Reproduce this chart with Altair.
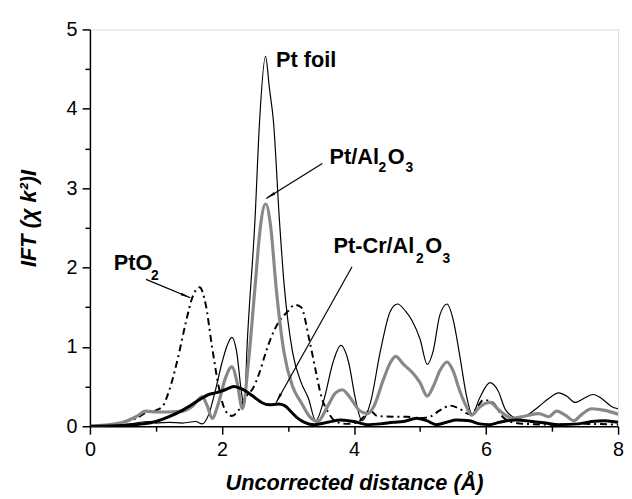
import math
import altair as alt
import pandas as pd

# ---------------- data ----------------
foil_r = [0.0, 0.3, 0.6, 0.9, 1.0, 1.2, 1.4, 1.6, 1.7, 1.8, 1.9, 2.0, 2.08, 2.15, 2.22, 2.3, 2.34,
          2.38, 2.5, 2.57, 2.66, 2.72, 2.78, 2.87, 2.94, 3.07, 3.2, 3.31, 3.42, 3.55, 3.68, 3.8,
          3.92, 4.02, 4.12, 4.25, 4.4, 4.55, 4.66, 4.78, 4.88, 5.0, 5.11, 5.2, 5.3, 5.41, 5.5,
          5.6, 5.7, 5.79, 5.9, 6.06, 6.18, 6.3, 6.48, 6.6, 6.8, 6.95, 7.1, 7.22, 7.35, 7.5,
          7.62, 7.75, 7.9, 8.0]
foil_v = [0.0, 0.01, 0.03, 0.06, 0.04, 0.05, 0.04, 0.06, 0.03, 0.15, 0.45, 0.8, 1.02, 1.12, 0.95, 0.4, 0.25,
          1.0, 2.6, 3.85, 4.66, 4.25, 3.84, 2.6, 1.8, 0.93, 0.55, 0.35, 0.07, 0.35, 0.8, 1.02,
          0.8, 0.35, 0.07, 0.3, 0.95, 1.45, 1.54, 1.45, 1.33, 1.1, 0.78, 0.95, 1.4, 1.54, 1.35,
          0.9, 0.4, 0.15, 0.35, 0.55, 0.45, 0.2, 0.1, 0.13, 0.25, 0.35, 0.42, 0.38, 0.3, 0.36,
          0.4, 0.35, 0.25, 0.22]

ptal_r = [0.0, 0.3, 0.5, 0.7, 0.85, 1.0, 1.2, 1.4, 1.55, 1.7, 1.78, 1.85, 1.95, 2.05, 2.15, 2.23, 2.31,
          2.4, 2.5, 2.58, 2.66, 2.74, 2.82, 2.94, 3.07, 3.2, 3.32, 3.45, 3.6, 3.72, 3.82, 3.95,
          4.08, 4.2, 4.3, 4.45, 4.55, 4.63, 4.75, 4.88, 5.0, 5.11, 5.2, 5.3, 5.41, 5.5, 5.6,
          5.7, 5.78, 5.9, 6.06, 6.2, 6.4, 6.6, 6.8, 6.95, 7.07, 7.2, 7.33, 7.45, 7.6, 7.8, 8.0]
ptal_v = [0.0, 0.02, 0.05, 0.12, 0.19, 0.18, 0.18, 0.19, 0.25, 0.37, 0.25, 0.1, 0.3, 0.6, 0.75, 0.55, 0.22,
          0.8, 1.75, 2.5, 2.8, 2.5, 1.75, 0.93, 0.5, 0.3, 0.13, 0.06, 0.25, 0.42, 0.46, 0.35,
          0.2, 0.16, 0.25, 0.6, 0.8, 0.88, 0.78, 0.68, 0.55, 0.38, 0.5, 0.7, 0.81, 0.7, 0.45,
          0.25, 0.14, 0.24, 0.3, 0.2, 0.1, 0.13, 0.16, 0.12, 0.19, 0.14, 0.07, 0.15, 0.22, 0.2, 0.15]

pto2_r = [0.0, 0.3, 0.5, 0.7, 0.85, 1.0, 1.1, 1.2, 1.33, 1.45, 1.55, 1.66, 1.75, 1.85, 1.95, 2.05, 2.15,
          2.25, 2.37, 2.47, 2.57, 2.66, 2.75, 2.85, 3.0, 3.1, 3.2, 3.32, 3.42, 3.5, 3.62, 3.75, 3.9,
          4.05, 4.15, 4.24, 4.35, 4.6, 4.8, 5.0, 5.15, 5.3, 5.46, 5.6, 5.75, 5.85, 5.96, 6.1,
          6.25, 6.4, 6.6, 7.0, 7.5, 8.0]
pto2_v = [0.0, 0.02, 0.05, 0.1, 0.17, 0.2, 0.25, 0.45, 0.85, 1.3, 1.62, 1.75, 1.55, 1.0, 0.5, 0.2, 0.13,
          0.2, 0.38, 0.48, 0.68, 0.92, 1.13, 1.3, 1.45, 1.53, 1.5, 1.1, 0.7, 0.39, 0.16, 0.05, 0.03,
          0.05, 0.12, 0.2, 0.13, 0.12, 0.12, 0.1, 0.12, 0.2, 0.26, 0.22, 0.15, 0.22, 0.33, 0.3,
          0.12, 0.05, 0.03, 0.02, 0.03, 0.02]

ptcr_r = [0.0, 0.5, 0.8, 1.0, 1.2, 1.4, 1.5, 1.65, 1.8, 1.9, 2.05, 2.18, 2.3, 2.4, 2.5, 2.6, 2.72,
          2.85, 2.95, 3.05, 3.15, 3.25, 3.4, 3.6, 3.8, 4.0, 4.2, 4.4, 4.6, 4.75, 4.95, 5.1,
          5.25, 5.4, 5.55, 5.75, 5.9, 6.05, 6.2, 6.45, 6.7, 6.9, 7.1, 7.4, 7.6, 7.8, 8.0]
ptcr_v = [0.0, 0.01, 0.03, 0.06, 0.12, 0.2, 0.25, 0.33, 0.4, 0.42, 0.46, 0.5, 0.47, 0.42, 0.36, 0.3, 0.27,
          0.28, 0.26, 0.18, 0.1, 0.05, 0.02, 0.05, 0.08, 0.06, 0.02, 0.03, 0.05, 0.06, 0.1, 0.07,
          0.02, 0.05, 0.08, 0.07, 0.03, 0.02, 0.05, 0.08, 0.06, 0.04, 0.02, 0.03, 0.06, 0.07, 0.05]

# labels (data coordinates, left edge / baseline)
label_text = ["Pt foil", "Pt/Al", "O", "Pt-Cr/Al", "O", "PtO"]
label_r = [2.82, 3.63, 4.51, 3.69, 5.08, 0.36]
label_v = [4.53, 3.31, 3.31, 2.18, 2.18, 1.965]
sub_text = ["2", "3", "2", "3", "2"]
sub_r = [4.37, 4.78, 4.94, 5.34, 0.925]
sub_v = [3.20, 3.20, 2.06, 2.06, 1.84]

# arrows: start -> end (head at end)
arrow_r1 = [0.85, 3.52, 3.97]
arrow_v1 = [1.85, 3.31, 2.01]
arrow_r2 = [1.52, 2.67, 2.82]
arrow_v2 = [1.62, 2.87, 0.30]

x_ticks = list(range(0, 9))
y_ticks = [i * 0.5 for i in range(0, 11)]

# ---------------- chart ----------------
W, H = 535, 402
XMAX, YMAX = 8, 5
FONT = "Liberation Sans"

xscale = alt.Scale(domain=[0, XMAX], nice=False, zero=False)
yscale = alt.Scale(domain=[0, YMAX], nice=False, zero=False)

x_axis = alt.Axis(
    values=x_ticks,
    format="d",
    labelExpr="datum.value % 2 === 0 ? datum.label : ''",
    tickSize={"condition": {"test": "datum.value % 2 === 0", "value": 8}, "value": 5},
    grid=False,
    title="Uncorrected distance (Å)",
    titleY=64,
    titleBaseline="alphabetic",
    titleFont=FONT, titleFontSize=22, titleFontWeight="bold", titleFontStyle="italic",
    titleColor="black",
    labelFont=FONT, labelFontSize=20, labelColor="black", labelPadding=6,
    labelFlush=False, labelOverlap=False,
    domainColor="black", domainWidth=1.5, tickColor="black", tickWidth=1.5,
)
y_axis = alt.Axis(
    values=y_ticks,
    format=".0f",
    labelExpr="datum.value % 1 === 0 ? datum.label : ''",
    tickSize={"condition": {"test": "datum.value % 1 === 0", "value": 8}, "value": 5},
    grid=False,
    title="IFT (χ k²)I",
    titleAngle=270,
    titleX=-55,
    titleY=191,
    titleAlign="center",
    titleBaseline="alphabetic",
    titleFont=FONT, titleFontSize=22, titleFontWeight="bold", titleFontStyle="italic",
    titleColor="black",
    labelFont=FONT, labelFontSize=20, labelColor="black", labelPadding=5,
    labelFlush=False, labelOverlap=False,
    domainColor="black", domainWidth=1.5, tickColor="black", tickWidth=1.5,
)

X = alt.X("r:Q", scale=xscale, axis=x_axis)
Y = alt.Y("v:Q", scale=yscale, axis=y_axis)


def line(rs, vs, **mark):
    df = pd.DataFrame({"r": rs, "v": vs})
    return alt.Chart(df).mark_line(interpolate="monotone", clip=True, **mark).encode(x=X, y=Y, order="r:Q")


foil = line(foil_r, foil_v, color="black", strokeWidth=1.2)
pto2 = line(pto2_r, pto2_v, color="black", strokeWidth=2, strokeDash=[7, 4, 2, 4])
ptal = line(ptal_r, ptal_v, color="#888888", strokeWidth=3.2)
ptcr = line(ptcr_r, ptcr_v, color="black", strokeWidth=3)

labels = alt.Chart(pd.DataFrame({"r": label_r, "v": label_v, "t": label_text})).mark_text(
    font=FONT, fontSize=22, fontWeight="bold", align="left", baseline="alphabetic", color="black"
).encode(x=X, y=Y, text="t:N")

subs = alt.Chart(pd.DataFrame({"r": sub_r, "v": sub_v, "t": sub_text})).mark_text(
    font=FONT, fontSize=14, fontWeight="bold", align="left", baseline="alphabetic", color="black"
).encode(x=X, y=Y, text="t:N")

px_x = W / XMAX
px_y = H / YMAX
angles = []
for a, b, c, d in zip(arrow_r1, arrow_v1, arrow_r2, arrow_v2):
    dx = (c - a) * px_x
    dv = (d - b) * px_y
    angles.append((math.degrees(math.atan2(dx, dv)) + 360) % 360)

arrow_df = pd.DataFrame({"r": arrow_r1, "v": arrow_v1, "r2": arrow_r2, "v2": arrow_v2})
arrow_lines = alt.Chart(arrow_df).mark_rule(color="black", strokeWidth=1.2).encode(
    x=X, y=Y, x2="r2:Q", y2="v2:Q"
)
head_df = pd.DataFrame({"r": arrow_r2, "v": arrow_v2, "a": angles})
heads = alt.Chart(head_df).mark_point(
    shape="M0,0 L-0.28,2 L0.28,2 Z", filled=True, color="black", opacity=1, size=100, strokeWidth=0
).encode(x=X, y=Y, angle=alt.Angle("a:Q", scale=None))

chart = alt.layer(foil, pto2, ptal, ptcr, arrow_lines, heads, labels, subs).properties(
    width=W,
    height=H,
    autosize=alt.AutoSizeParams(type="none"),
    padding={"left": 83, "top": 18.5, "right": 6, "bottom": 70},
).configure_view(stroke=None).configure(background="white")

chart.save("out.html", embed_options={"renderer": "svg", "actions": False})
